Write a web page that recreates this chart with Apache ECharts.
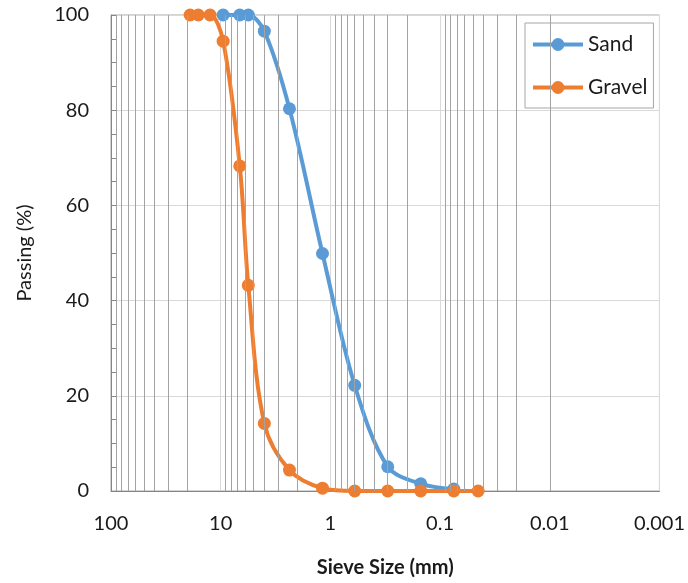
<!DOCTYPE html>
<html>
<head>
<meta charset="utf-8">
<script src="https://cdn.jsdelivr.net/npm/echarts@6/dist/echarts.min.js"></script>
<style>html,body{margin:0;padding:0;background:#fff}#c{width:688px;height:583px}</style>
</head>
<body>
<div id="c"></div>
<script>
const sandSizes = [9.5, 6.7, 5.6, 4.0, 2.36, 1.18, 0.6, 0.3, 0.15, 0.075];
const sandPassing = [100, 100, 100, 96.6, 80.3, 49.9, 22.2, 5.1, 1.5, 0.4];
const gravelSizes = [19, 16, 12.5, 9.5, 6.7, 5.6, 4.0, 2.36, 1.18, 0.6, 0.3, 0.15, 0.075, 0.045];
const gravelPassing = [100, 100, 100, 94.5, 68.3, 43.2, 14.2, 4.4, 0.6, 0, 0, 0, 0, 0];
const xTickValues = [100, 10, 1, 0.1, 0.01, 0.001];
const xTickLabels = ['100', '10', '1', '0.1', '0.01', '0.001'];
const yTickLabels = ['0', '20', '40', '60', '80', '100'];

// minor log gridlines at 2..9 times each decade
const minorGrid = [];
for (let e = -3; e < 2; e++) {
  for (let k = 2; k <= 9; k++) minorGrid.push(Number((k * Math.pow(10, e)).toPrecision(3)));
}

const FONT = 'Lato';
const FS = 20;
const chart = echarts.init(document.getElementById('c'), null, {renderer: 'canvas'});
chart.setOption({
  animation: false,
  textStyle: {fontFamily: FONT},
  grid: {left: 111, right: 25, top: 15, bottom: 91, show: true, borderColor: '#a6a6a6', borderWidth: 1},
  legend: {
    data: ['Sand', 'Gravel'],
    orient: 'vertical',
    left: 525, top: 23,
    padding: [11, 6, 10, 6],
    itemWidth: 50, itemHeight: 16, itemGap: 22,
    lineStyle: {width: 4},
    backgroundColor: '#fff',
    borderColor: '#a6a6a6', borderWidth: 1,
    textStyle: {fontFamily: FONT, fontSize: 21, color: '#1a1a1a'}
  },
  xAxis: {
    type: 'log', logBase: 10, min: 0.001, max: 100, inverse: true,
    name: 'Sieve Size (mm)', nameLocation: 'middle', nameGap: 67,
    nameTextStyle: {fontFamily: FONT, fontSize: FS, fontWeight: 'bold', color: '#1a1a1a'},
    axisLine: {show: true, lineStyle: {color: '#868686', width: 1}},
    axisTick: {show: false},
    axisLabel: {
      margin: 23, fontFamily: FONT, fontSize: FS, color: '#1a1a1a',
      formatter: function (v) {
        for (let i = 0; i < xTickValues.length; i++) {
          if (Math.abs(Math.log10(v) - Math.log10(xTickValues[i])) < 1e-6) return xTickLabels[i];
        }
        return '';
      }
    },
    splitLine: {show: true, lineStyle: {color: '#d9d9d9', width: 1}}
  },
  yAxis: {
    type: 'value', min: 0, max: 100, interval: 20,
    name: 'Passing (%)', nameLocation: 'middle', nameGap: 76,
    nameTextStyle: {fontFamily: FONT, fontSize: FS, color: '#1a1a1a'},
    axisLine: {show: true, lineStyle: {color: '#868686', width: 1}},
    axisTick: {show: true, inside: true, length: 6, lineStyle: {color: '#868686'}},
    minorTick: {show: true, splitNumber: 4, length: 6, lineStyle: {color: '#868686'}},
    axisLabel: {
      margin: 22, fontFamily: FONT, fontSize: FS, color: '#1a1a1a',
      formatter: function (v) { return yTickLabels[Math.round(v / 20)]; }
    },
    splitLine: {show: true, lineStyle: {color: '#d9d9d9', width: 1.2}}
  },
  series: [
    {
      type: 'line', data: [], silent: true, z: 1,
      markLine: {
        silent: true, symbol: ['none', 'none'], animation: false,
        label: {show: false},
        lineStyle: {type: 'solid', color: '#a3a3a3', width: 1},
        emphasis: {disabled: true},
        data: minorGrid.map(v => ({xAxis: v}))
      }
    },
    {
      name: 'Sand', type: 'line', z: 3, clip: false,
      data: sandSizes.map((s, i) => [s, sandPassing[i]]),
      smooth: 0.33,
      symbol: 'circle', symbolSize: 13,
      itemStyle: {color: '#5B9BD5'},
      lineStyle: {color: '#5B9BD5', width: 4}
    },
    {
      name: 'Gravel', type: 'line', z: 4, clip: false,
      data: gravelSizes.map((s, i) => [s, gravelPassing[i]]),
      smooth: 0.33,
      symbol: 'circle', symbolSize: 13,
      itemStyle: {color: '#ED7D31'},
      lineStyle: {color: '#ED7D31', width: 4}
    }
  ]
});
</script>
</body>
</html>
